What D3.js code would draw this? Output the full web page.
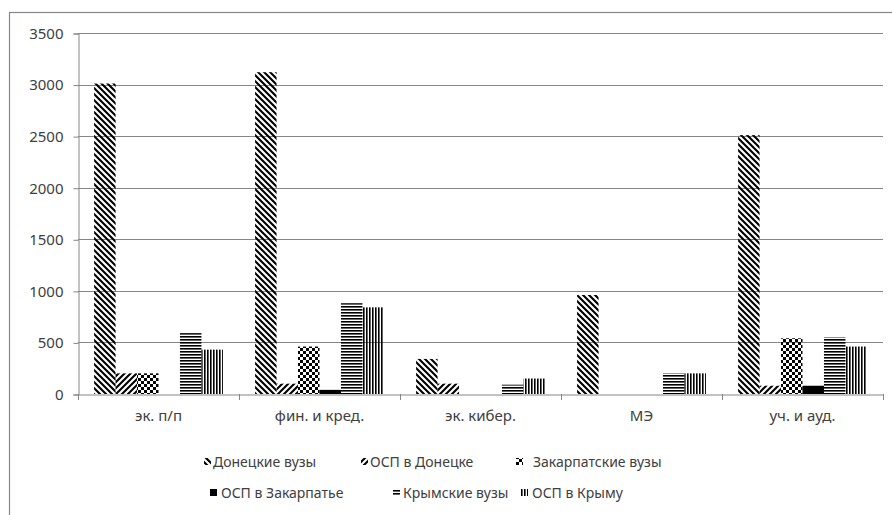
<!DOCTYPE html>
<html>
<head>
<meta charset="utf-8">
<style>
  body { margin: 0; background: #fff; }
  svg text { font-family: "Noto Sans", "Open Sans", sans-serif; fill: #404040; }
</style>
</head>
<body>
<div id="chart"></div>
<script src="https://cdn.jsdelivr.net/npm/d3@7"></script>
<script>
var categories = ['эк. п/п', 'фин. и кред.', 'эк. кибер.', 'МЭ', 'уч. и ауд.'];
var seriesNames = ['Донецкие вузы', 'ОСП в Донецке', 'Закарпатские вузы',
                   'ОСП в Закарпатье', 'Крымские вузы', 'ОСП в Крыму'];
var donetskUni   = [3010, 3120, 340, 960, 2510];
var donetskOsp   = [200, 100, 100, 0, 80];
var zakarpUni    = [200, 460, 0, 0, 540];
var zakarpOsp    = [0, 40, 0, 0, 80];
var crimeaUni    = [590, 880, 90, 200, 550];
var crimeaOsp    = [430, 840, 150, 200, 460];
var yTicks = [0, 500, 1000, 1500, 2000, 2500, 3000, 3500];

var series = [donetskUni, donetskOsp, zakarpUni, zakarpOsp, crimeaUni, crimeaOsp];
var patternIds = ['p-dd', 'p-ud', 'p-ck', 'p-solid', 'p-hz', 'p-vt'];

var W = 892, H = 515,
    plotL = 78, plotR = 883, plotT = 33, plotB = 394;

var svg = d3.select('#chart').append('svg')
  .attr('width', W)
  .attr('height', H);

var defs = svg.append('defs');

// wide downward diagonal
var p = defs.append('pattern').attr('id', 'p-dd')
  .attr('patternUnits', 'userSpaceOnUse').attr('width', 6).attr('height', 6);
p.append('path').attr('d', 'M0,0L6,6M-1,5L1,7M5,-1L7,1')
  .attr('stroke', '#000').attr('stroke-width', 2.1);

// wide upward diagonal
p = defs.append('pattern').attr('id', 'p-ud')
  .attr('patternUnits', 'userSpaceOnUse').attr('width', 6).attr('height', 6);
p.append('path').attr('d', 'M0,6L6,0M-1,1L1,-1M5,7L7,5')
  .attr('stroke', '#000').attr('stroke-width', 2.1);

// large checker
p = defs.append('pattern').attr('id', 'p-ck')
  .attr('patternUnits', 'userSpaceOnUse').attr('width', 6).attr('height', 6);
p.append('rect').attr('width', 3).attr('height', 3).attr('fill', '#000');
p.append('rect').attr('x', 3).attr('y', 3).attr('width', 3).attr('height', 3).attr('fill', '#000');

// solid
p = defs.append('pattern').attr('id', 'p-solid')
  .attr('patternUnits', 'userSpaceOnUse').attr('width', 4).attr('height', 4);
p.append('rect').attr('width', 4).attr('height', 4).attr('fill', '#000');

// dark horizontal
p = defs.append('pattern').attr('id', 'p-hz')
  .attr('patternUnits', 'userSpaceOnUse').attr('width', 3).attr('height', 3);
p.append('rect').attr('width', 3).attr('height', 1.6).attr('fill', '#000');

// dark vertical
p = defs.append('pattern').attr('id', 'p-vt')
  .attr('patternUnits', 'userSpaceOnUse').attr('width', 3).attr('height', 3);
p.append('rect').attr('width', 1.6).attr('height', 3).attr('fill', '#000');

// chart frame
svg.append('rect')
  .attr('x', 9.5).attr('y', 12.5)
  .attr('width', 900).attr('height', 520)
  .attr('fill', 'none').attr('stroke', '#868686').attr('stroke-width', 1.2);

var x = d3.scaleBand().domain(categories).range([plotL, plotR]);
var inner = d3.scaleBand().domain(d3.range(6))
  .range([0, x.bandwidth()]).paddingOuter(0.75).paddingInner(0);
var y = d3.scaleLinear().domain([0, 3500]).range([plotB, plotT]);

// gridlines
svg.append('g').selectAll('line')
  .data(yTicks.slice(1))
  .enter().append('line')
    .attr('x1', plotL).attr('x2', plotR)
    .attr('y1', function (d) { return Math.round(y(d)) + 0.5; })
    .attr('y2', function (d) { return Math.round(y(d)) + 0.5; })
    .attr('stroke', '#868686');

// y axis
var yAxis = svg.append('g')
  .attr('transform', 'translate(' + (plotL + 0.5) + ',0.5)')
  .call(d3.axisLeft(y).tickValues(yTicks).tickSize(5).tickPadding(10).tickFormat(d3.format('d')));
yAxis.select('.domain').attr('stroke', '#868686');
yAxis.selectAll('.tick line').attr('stroke', '#868686');
yAxis.selectAll('.tick text').style('font-size', '15px').attr('fill', '#404040');

// bars
series.forEach(function (vals, si) {
  svg.append('g').selectAll('rect')
    .data(vals)
    .enter().append('rect')
      .attr('x', function (d, i) { return x(categories[i]) + inner(si); })
      .attr('y', function (d) { return y(d); })
      .attr('width', inner.bandwidth())
      .attr('height', function (d) { return plotB - y(d); })
      .attr('fill', 'url(#' + patternIds[si] + ')');
});

// x axis
var xAxis = svg.append('g')
  .attr('transform', 'translate(0,' + (plotB + 0.5) + ')')
  .call(d3.axisBottom(x).tickSize(0).tickPadding(16));
xAxis.select('.domain').attr('stroke', '#868686');
xAxis.selectAll('.tick text').style('font-size', '15px').attr('fill', '#404040');
svg.append('g').selectAll('line')
  .data(categories.concat(['end']))
  .enter().append('line')
    .attr('x1', function (d, i) { return Math.round(plotL + i * x.step()) + 0.5; })
    .attr('x2', function (d, i) { return Math.round(plotL + i * x.step()) + 0.5; })
    .attr('y1', plotB).attr('y2', plotB + 6)
    .attr('stroke', '#868686');

// legend
var legendPos = [[204, 462], [361, 462], [516, 462], [210, 493], [393, 493], [521, 493]];
var textOff = [9, 9, 17, 11, 10, 11];
var legend = svg.append('g').selectAll('g')
  .data(seriesNames)
  .enter().append('g')
    .attr('transform', function (d, i) { return 'translate(' + legendPos[i][0] + ',' + legendPos[i][1] + ')'; });
legend.append('rect')
  .attr('x', 0).attr('y', -4).attr('width', 7).attr('height', 7)
  .attr('fill', function (d, i) { return 'url(#' + patternIds[i] + ')'; });
legend.append('text')
  .attr('x', function (d, i) { return textOff[i]; })
  .attr('dy', '0.35em')
  .style('font-size', '14px')
  .text(function (d) { return d; });
</script>
</body>
</html>
